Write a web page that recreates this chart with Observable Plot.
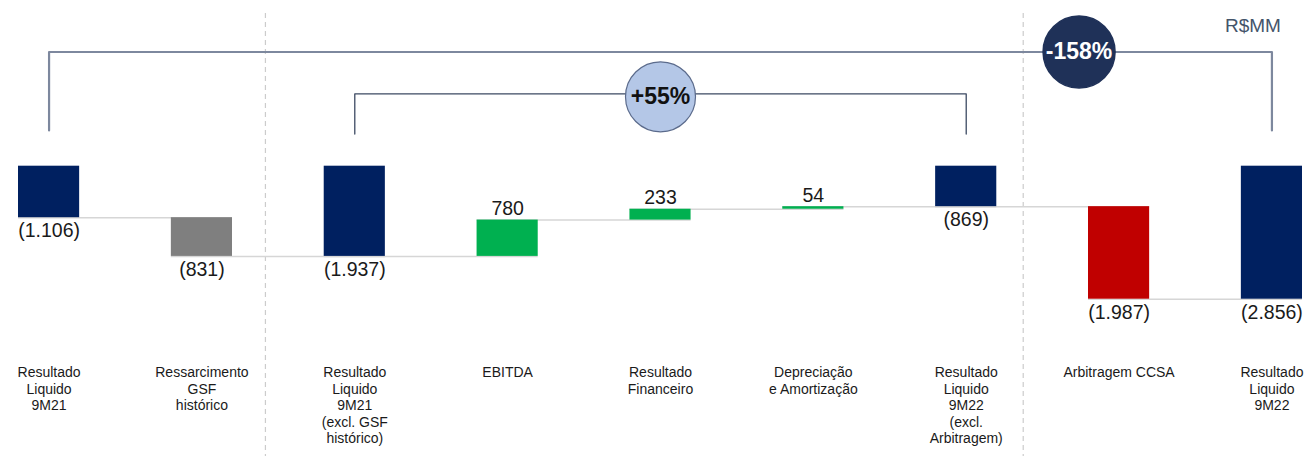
<!DOCTYPE html>
<html><head><meta charset="utf-8">
<script src="https://cdn.jsdelivr.net/npm/d3@7"></script>
<script src="https://cdn.jsdelivr.net/npm/@observablehq/plot@0.6"></script>
<style>body{margin:0;background:#fff;overflow:hidden}</style>
</head><body><div id="chart"></div>
<script>
// ---- data ----
const categories = [
  "Resultado\nLiquido\n9M21",
  "Ressarcimento\nGSF\nhistórico",
  "Resultado\nLiquido\n9M21\n(excl. GSF\nhistórico)",
  "EBITDA",
  "Resultado\nFinanceiro",
  "Depreciação\ne Amortização",
  "Resultado\nLiquido\n9M22\n(excl.\nArbitragem)",
  "Arbitragem CCSA",
  "Resultado\nLiquido\n9M22"
];
const values = [-1106, -831, -1937, 780, 233, 54, -869, -1987, -2856];
const barTypes = ["total", "gsf", "total", "pos", "pos", "pos", "total", "neg", "total"];
const unitLabel = "R$MM";
const comparisonFrom = [categories[0], categories[2]];
const comparisonTo = [categories[8], categories[6]];
const comparisonLabels = ["-158%", "+55%"];

// ---- layout (in y-scale units) ----
const L = {bigTop: 2452, bigLeg: 767, smallTop: 1555, smallLeg: 691, unitY: 3021, divTop: 3279, divBottom: -6400};

const fmt = v => {
  const s = d3.format(",")(Math.abs(v)).replace(/,/g, ".");
  return v < 0 ? "(" + s + ")" : s;
};

let run = 0;
const rows = categories.map((c, i) => {
  const v = values[i];
  let y1, y2;
  if (barTypes[i] === "total") { y1 = 0; y2 = v; run = v; }
  else { y1 = run; y2 = run + v; run = y2; }
  return {cat: c, type: barTypes[i], value: v, y1, y2, end: run,
          labelY: v < 0 ? Math.min(y1, y2) : Math.max(y1, y2), label: fmt(v)};
});
const connectors = rows.slice(0, -1).map((r, i) => ({x1: r.cat, x2: rows[i + 1].cat, y: r.end}));

const bigPts = [
  {x: comparisonFrom[0], y: L.bigLeg}, {x: comparisonFrom[0], y: L.bigTop},
  {x: comparisonTo[0], y: L.bigTop}, {x: comparisonTo[0], y: L.bigLeg}
];
const smallPts = [
  {x: comparisonFrom[1], y: L.smallLeg}, {x: comparisonFrom[1], y: L.smallTop},
  {x: comparisonTo[1], y: L.smallTop}, {x: comparisonTo[1], y: L.smallLeg}
];

const FONT = "'Liberation Sans', Arial, sans-serif";

const chart = Plot.plot({
  width: 1310, height: 456,
  marginLeft: 0, marginRight: 0, marginTop: 0, marginBottom: 92,
  style: {fontFamily: FONT, background: "#fff", overflow: "visible"},
  x: {domain: categories, range: [18, 1302], paddingInner: 0.6, paddingOuter: 0, round: false, label: null},
  y: {domain: [-2856, 0], range: [298.7, 165.7], axis: null},
  color: {domain: ["total", "gsf", "pos", "neg"], range: ["#002060", "#7f7f7f", "#00b050", "#c00000"]},
  marks: [
    Plot.ruleX([categories[1]], {x: d => d, y1: L.divTop, y2: L.divBottom, dx: 63.5, stroke: "#cccccc", strokeWidth: 1.2, strokeDasharray: "5,4"}),
    Plot.ruleX([categories[6]], {x: d => d, y1: L.divTop, y2: L.divBottom, dx: 57, stroke: "#cccccc", strokeWidth: 1.2, strokeDasharray: "5,4"}),
    Plot.ruleY(connectors, {x1: "x1", x2: "x2", y: "y", stroke: "#d6d6d6", strokeWidth: 1.5}),
    Plot.barY(rows, {x: "cat", y1: "y1", y2: "y2", fill: "type"}),
    Plot.text(rows.filter(d => d.value < 0), {x: "cat", y: "labelY", text: "label", dy: 13.5, fontSize: 19.5, fill: "#1a1a1a"}),
    Plot.text(rows.filter(d => d.value >= 0), {x: "cat", y: "labelY", text: "label", dy: -11, fontSize: 19.5, fill: "#1a1a1a"}),
    Plot.line(bigPts, {x: "x", y: "y", stroke: "#7d889e", strokeWidth: 2.2, curve: "linear"}),
    Plot.line(smallPts, {x: "x", y: "y", stroke: "#3d4a63", strokeWidth: 1.3, curve: "linear"}),
    Plot.dot([comparisonLabels[0]], {x: () => categories[7], y: L.bigTop, r: 36, dx: -40, fill: "#1f3158", stroke: "#1f3158"}),
    Plot.text([comparisonLabels[0]], {x: () => categories[7], y: L.bigTop, text: d => d, dx: -40, fill: "#fff", fontSize: 23, fontWeight: "bold"}),
    Plot.dot([comparisonLabels[1]], {x: () => categories[4], y: L.smallTop, r: 35, dy: 3, fill: "#b4c7e7", stroke: "#5b6b8c", strokeWidth: 1.2}),
    Plot.text([comparisonLabels[1]], {x: () => categories[4], y: L.smallTop, text: d => d, dy: 3, fill: "#111", fontSize: 23, fontWeight: "bold"}),
    Plot.text([unitLabel], {x: () => categories[8], y: L.unitY, text: d => d, dx: 9, textAnchor: "end", fill: "#44546a", fontSize: 19}),
    Plot.axisX({tickSize: 0, tickPadding: 1, fontSize: 14, lineHeight: 1.18, color: "#1a1a1a", lineAnchor: "top"})
  ]
});
document.getElementById("chart").appendChild(chart);
</script>
</body></html>
